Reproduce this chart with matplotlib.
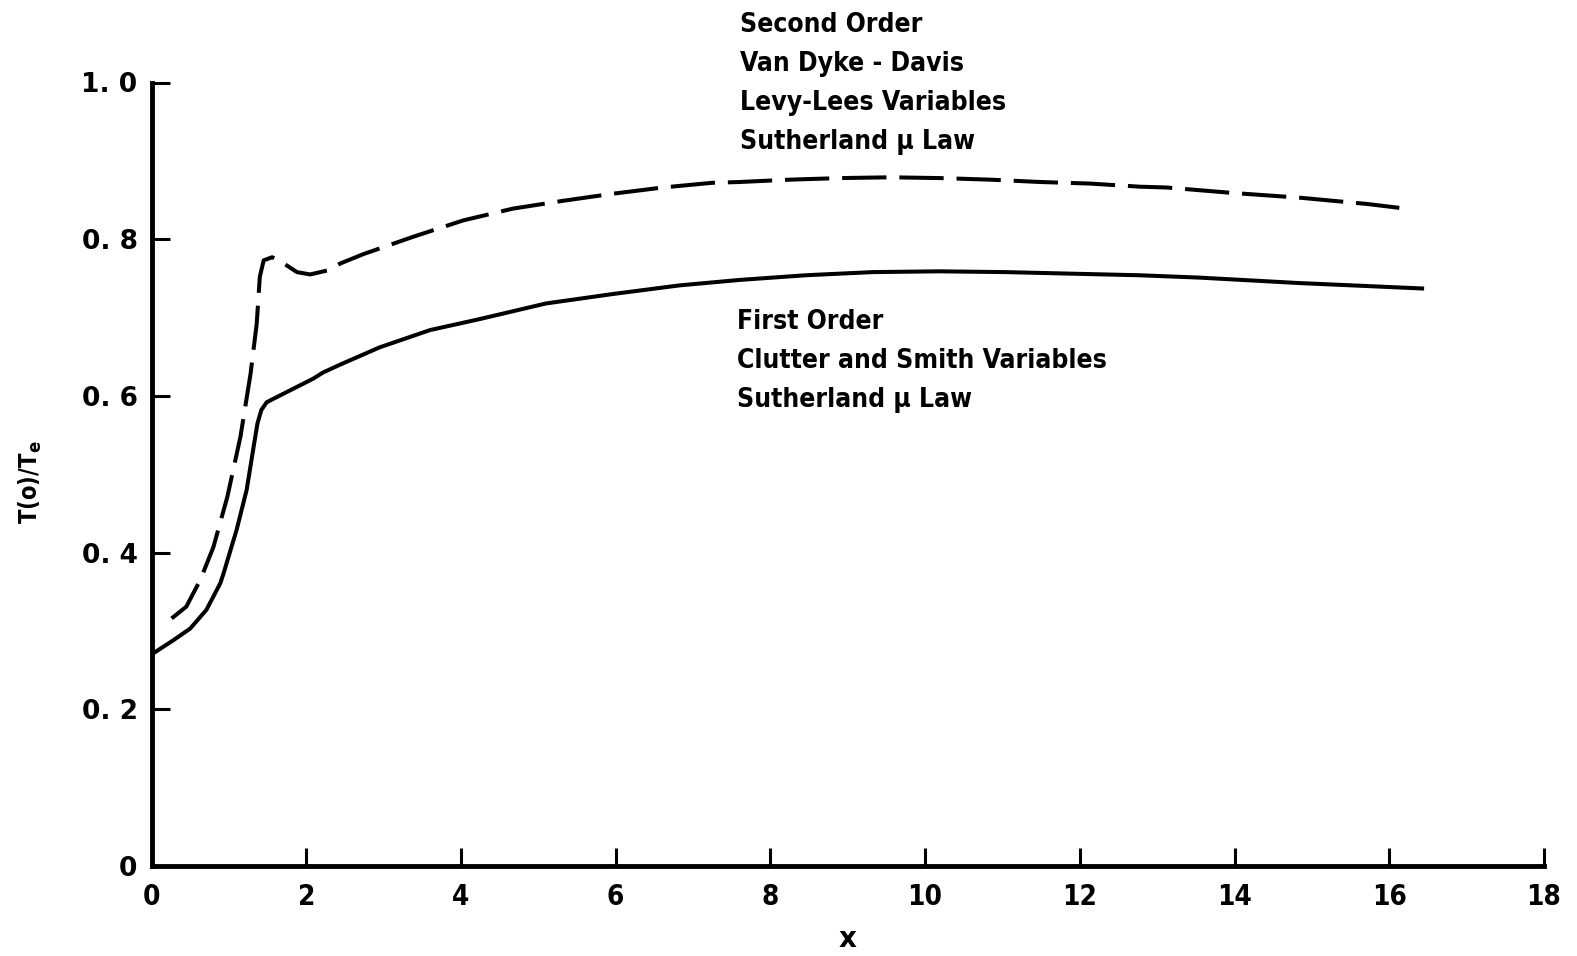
import matplotlib
matplotlib.use("Agg")
import matplotlib.pyplot as plt

# First-order solution (Clutter and Smith variables)
x_first = [0.0, 0.28, 0.50, 0.71, 0.89, 0.93, 1.10, 1.23, 1.32, 1.37, 1.42, 1.49,
           1.71, 2.09, 2.22, 2.44, 2.95, 3.60, 4.24, 5.10, 5.96, 6.82, 7.60, 8.46,
           9.32, 10.18, 11.04, 11.90, 12.76, 13.54, 14.84, 16.45]
t_first = [0.270, 0.288, 0.303, 0.327, 0.361, 0.373, 0.429, 0.480, 0.535, 0.565,
           0.582, 0.592, 0.603, 0.622, 0.630, 0.640, 0.662, 0.684, 0.698, 0.718,
           0.730, 0.741, 0.748, 0.754, 0.758, 0.759, 0.758, 0.756, 0.754, 0.751,
           0.744, 0.737]

# Second-order solution (Van Dyke - Davis, Levy-Lees variables)
x_second = [0.26, 0.45, 0.63, 0.80, 0.98, 1.15, 1.28, 1.36, 1.40, 1.45, 1.56,
            1.71, 1.88, 2.05, 2.27, 2.44, 2.74, 3.38, 4.03, 4.67, 5.32, 5.96,
            6.61, 7.25, 7.60, 8.25, 8.90, 9.55, 10.20, 10.84, 11.49, 12.13,
            12.78, 13.12, 13.98, 14.84, 15.71, 16.13]
t_second = [0.316, 0.331, 0.365, 0.407, 0.471, 0.548, 0.628, 0.692, 0.752, 0.773,
            0.777, 0.769, 0.758, 0.755, 0.760, 0.769, 0.781, 0.803, 0.824, 0.839,
            0.849, 0.858, 0.866, 0.872, 0.873, 0.876, 0.878, 0.879, 0.878, 0.876,
            0.873, 0.871, 0.867, 0.866, 0.859, 0.853, 0.845, 0.840]

x_ticks = [0, 2, 4, 6, 8, 10, 12, 14, 16, 18]
y_ticks = [0, 0.2, 0.4, 0.6, 0.8, 1.0]
y_tick_labels = ["0", "0. 2", "0. 4", "0. 6", "0. 8", "1. 0"]

second_label = ["Second Order", "Van Dyke - Davis", "Levy-Lees Variables",
                "Sutherland \u03bc Law"]
first_label = ["First Order", "Clutter and Smith Variables", "Sutherland \u03bc Law"]

W, H = 1577, 956
fig = plt.figure(figsize=(W / 100, H / 100), dpi=100)
ax = fig.add_axes([151.5 / W, 1 - 866 / H, (1544 - 151.5) / W, (866 - 82.5) / H])

ax.plot(x_first, t_first, color="black", lw=2.9, solid_capstyle="butt",
        solid_joinstyle="round")
ax.plot(x_second, t_second, color="black", lw=2.9, dashes=(11, 3.2),
        dash_joinstyle="round")

ax.set_xlim(0, 18)
ax.set_ylim(0, 1.0)
ax.spines["top"].set_visible(False)
ax.spines["right"].set_visible(False)
ax.spines["left"].set_linewidth(3.5)
ax.spines["bottom"].set_linewidth(3.5)
ax.set_xticks(x_ticks)
ax.set_xticklabels([str(v) for v in x_ticks], fontsize=20, fontweight="bold",
                   fontstretch="condensed")
ax.set_yticks(y_ticks)
ax.set_yticklabels(y_tick_labels, fontsize=19, fontweight="bold")
ax.tick_params(direction="in", length=13, width=2.2, pad=10)
ax.tick_params(axis="x", pad=12)

ax.set_xlabel("x", fontsize=20, fontweight="bold", labelpad=10)
fig.text(30 / W, 1 - 482 / H, r"T(o)/T$_\mathbf{e}$", rotation=90, fontsize=17,
         fontweight="bold", fontstretch="condensed", va="center", ha="center")

for i, line in enumerate(second_label):
    fig.text(740 / W, 1 - (25 + 39 * i) / H, line, fontsize=19, fontweight="bold",
             fontstretch="condensed", va="center", ha="left")
for i, line in enumerate(first_label):
    fig.text(737 / W, 1 - (322 + 39 * i) / H, line, fontsize=19, fontweight="bold",
             fontstretch="condensed", va="center", ha="left")

fig.savefig("out.png", dpi=100, facecolor="white")
